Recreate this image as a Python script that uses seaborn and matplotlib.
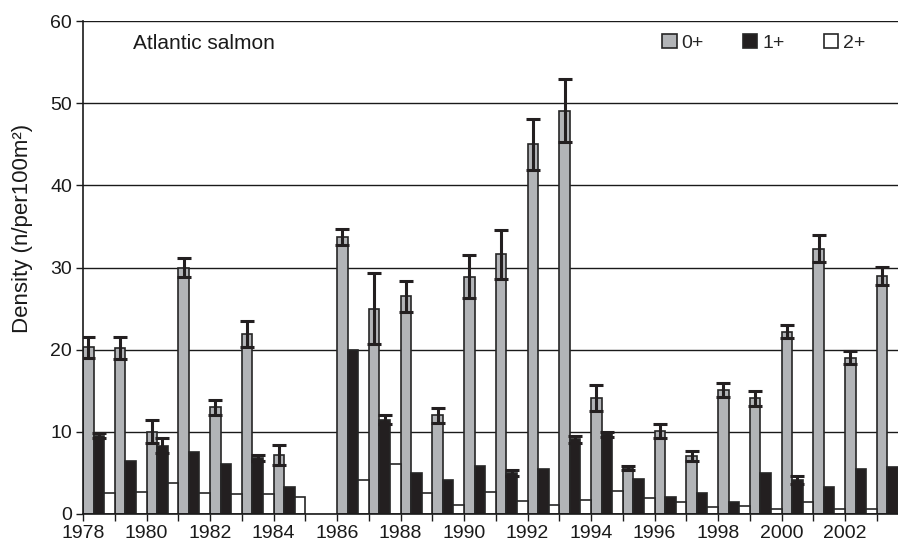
import numpy as np
import pandas as pd
import matplotlib.pyplot as plt
import seaborn as sns

# survey years (no survey in 1985)
years = [1978, 1979, 1980, 1981, 1982, 1983, 1984,
         1986, 1987, 1988, 1989, 1990, 1991, 1992, 1993, 1994,
         1995, 1996, 1997, 1998, 1999, 2000, 2001, 2002, 2003]
all_years = [str(y) for y in range(1978, 2004)]

age0 = [20.3, 20.2, 10.0, 30.0, 13.0, 21.9, 7.2,
        33.7, 25.0, 26.5, 12.0, 28.9, 31.6, 45.0, 49.1, 14.1,
        5.6, 10.1, 7.1, 15.1, 14.1, 22.2, 32.3, 19.0, 29.0]
age0_err = [1.3, 1.3, 1.4, 1.2, 0.9, 1.6, 1.2,
            1.0, 4.3, 1.9, 0.9, 2.6, 3.0, 3.1, 3.8, 1.6,
            0.2, 0.8, 0.6, 0.9, 0.9, 0.8, 1.6, 0.8, 1.1]
age1 = [9.5, 6.5, 8.3, 7.5, 6.1, 6.8, 3.3,
        20.0, 11.5, 5.0, 4.1, 5.9, 5.0, 5.5, 9.1, 9.7,
        4.2, 2.1, 2.6, 1.5, 5.0, 4.1, 3.3, 5.5, 5.7]
age1_err = [0.3, 0, 0.9, 0, 0, 0.4, 0,
            0, 0.5, 0, 0, 0, 0.4, 0, 0.4, 0.3,
            0, 0, 0, 0, 0, 0.5, 0, 0, 0]
age2 = [2.6, 2.7, 3.8, 2.5, 2.4, 2.4, 2.1,
        4.1, 6.1, 2.6, 1.1, 2.7, 1.6, 1.1, 1.7, 2.8,
        2.0, 1.5, 0.9, 1.0, 0.6, 1.5, 0.6, 0.6, np.nan]
age2_err = [0] * len(years)

ages = ["0+", "1+", "2+"]
colors = ["#b2b4b7", "#231f20", "#ffffff"]

rows = []
for age, vals, errs in zip(ages, [age0, age1, age2], [age0_err, age1_err, age2_err]):
    for y, v, e in zip(years, vals, errs):
        rows.append({"year": str(y), "age": age, "density": v, "err": e})
df = pd.DataFrame(rows).dropna()

sns.set_style("white")
plt.rcParams["font.family"] = ["Liberation Sans", "DejaVu Sans"]

fig = plt.figure(figsize=(8.98, 5.44), dpi=100)
ax = fig.add_axes([83 / 898, 30 / 544, 815 / 898, 493 / 544])

sns.barplot(data=df, x="year", y="density", hue="age", order=all_years,
            hue_order=ages, palette=colors, width=1.0, errorbar=None,
            edgecolor="#262626", linewidth=1.2, saturation=1, ax=ax, zorder=2)

# error bars on top of the bars, placed from the drawn patches
err_lookup = {(r.year, r.age): r.err for r in df.itertuples()}
for age, cont in zip(ages, ax.containers):
    for p in cont.patches:
        h = p.get_height()
        if not np.isfinite(h):
            continue
        cx = p.get_x() + p.get_width() / 2
        yr = all_years[int(round(cx))]
        e = err_lookup.get((yr, age), 0)
        if e > 0:
            ax.errorbar(cx, h, yerr=e, fmt="none", ecolor="#231f20",
                        elinewidth=2.2, capsize=5, capthick=2.2, zorder=5)

ax.set_xlim(-0.5, 25.5 - 1 / 3)
ax.set_ylim(0, 60)
ax.set_yticks(range(0, 61, 10))
ax.yaxis.grid(True, color="#1a1a1a", linewidth=1.0)
ax.set_axisbelow(True)

ticks = np.arange(len(all_years)) - 0.5
labels = [y if int(y) % 2 == 0 else "" for y in all_years]
ax.set_xticks(ticks)
ax.set_xticklabels(labels)
ax.tick_params(axis="both", direction="out", length=5, width=1,
               color="#1a1a1a", labelsize=14, labelcolor="#1a1a1a", pad=3,
               bottom=True, left=True)

for side in ["top", "right"]:
    ax.spines[side].set_visible(False)
for side in ["left", "bottom"]:
    ax.spines[side].set_color("#1a1a1a")
    ax.spines[side].set_linewidth(1.2)

ax.set_xlabel("")
ax.set_ylabel("Density (n/per100m²)", fontsize=16, color="#1a1a1a")
ax.yaxis.set_label_coords(-0.061, 0.58)

ax.text(0.061, 0.955, "Atlantic salmon", transform=ax.transAxes,
        fontsize=15, color="#1a1a1a", va="center", ha="left")

handles, _ = ax.get_legend_handles_labels()
ax.legend(handles, ages, ncol=3, loc="center right",
          bbox_to_anchor=(0.96, 0.955), frameon=False, fontsize=14,
          handlelength=0.75, handleheight=0.75, handletextpad=0.25,
          columnspacing=2.0, borderpad=0, borderaxespad=0)

fig.savefig("out.png", dpi=100)
